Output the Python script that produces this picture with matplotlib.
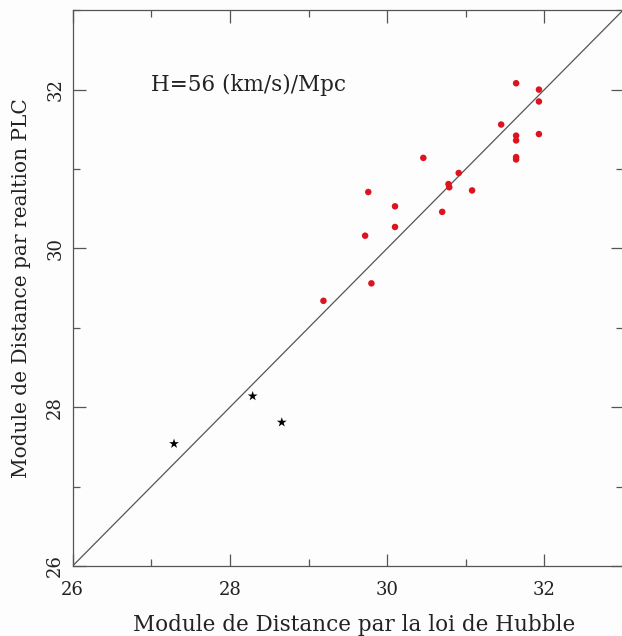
import matplotlib
matplotlib.use("Agg")
import matplotlib.pyplot as plt
from matplotlib.ticker import MultipleLocator

# Distance moduli: Hubble-law (x) vs PLC relation (y)
hubble_red = [31.64, 31.93, 31.93, 31.45, 31.64, 31.64, 31.93, 31.64, 31.64,
              30.46, 30.91, 30.78, 30.79, 31.08, 29.76, 30.10, 30.10, 30.70,
              29.72, 29.80, 29.19]
plc_red = [32.08, 32.00, 31.85, 31.56, 31.42, 31.36, 31.44, 31.15, 31.12,
           31.14, 30.95, 30.81, 30.77, 30.73, 30.71, 30.53, 30.27, 30.46,
           30.16, 29.56, 29.34]

hubble_star = [27.29, 28.29, 28.66]
plc_star = [27.54, 28.14, 27.81]

axis_min, axis_max = 26, 33
major_ticks = [26, 28, 30, 32]

plt.rcParams["font.family"] = ["DejaVu Serif"]

fig = plt.figure(figsize=(6.22, 6.36), dpi=100, facecolor="#fdfdfd")
ax = fig.add_axes([0.1167, 0.110, 0.885, 0.874])
ax.set_facecolor("#fdfdfd")

ax.plot([axis_min, axis_max], [axis_min, axis_max], color="#555555", lw=0.9, zorder=1)
ax.scatter(hubble_red, plc_red, s=22, color="#dd1420", edgecolors="none", zorder=3)
ax.scatter(hubble_star, plc_star, s=55, marker="*", color="black", edgecolors="none", zorder=3)

ax.set_xlim(axis_min, axis_max)
ax.set_ylim(axis_min, axis_max)
ax.set_xticks(major_ticks)
ax.set_yticks(major_ticks)
ax.xaxis.set_minor_locator(MultipleLocator(1))
ax.yaxis.set_minor_locator(MultipleLocator(1))
ax.tick_params(which="both", direction="in", top=True, right=True,
               color="#555555", width=0.9, labelsize=13, labelcolor="#222222")
ax.tick_params(which="major", length=9)
ax.tick_params(which="minor", length=5)
ax.tick_params(axis="x", which="major", pad=11)
ax.tick_params(axis="y", which="major", pad=6)
for lab in ax.get_yticklabels():
    lab.set_rotation(90)
    lab.set_verticalalignment("center")
for sp in ax.spines.values():
    sp.set_color("#555555")
    sp.set_linewidth(0.9)

# x-axis title placed by hand so it sits low under the tick labels
x_mid = ax.get_position().x0 + ax.get_position().width * (354 - 72.6) / 550.4
fig.text(x_mid, 5.5 / 636, "Module de Distance par la loi de Hubble",
         fontsize=15.5, color="#222222", ha="center", va="baseline")
ax.set_ylabel("Module de Distance par realtion PLC", fontsize=14.5,
              color="#222222", labelpad=11)

ax.text(27.0, 32.06, "H=56 (km/s)/Mpc", fontsize=15.5, color="#222222",
        ha="left", va="center")

fig.savefig("out.png", dpi=100, facecolor=fig.get_facecolor())
